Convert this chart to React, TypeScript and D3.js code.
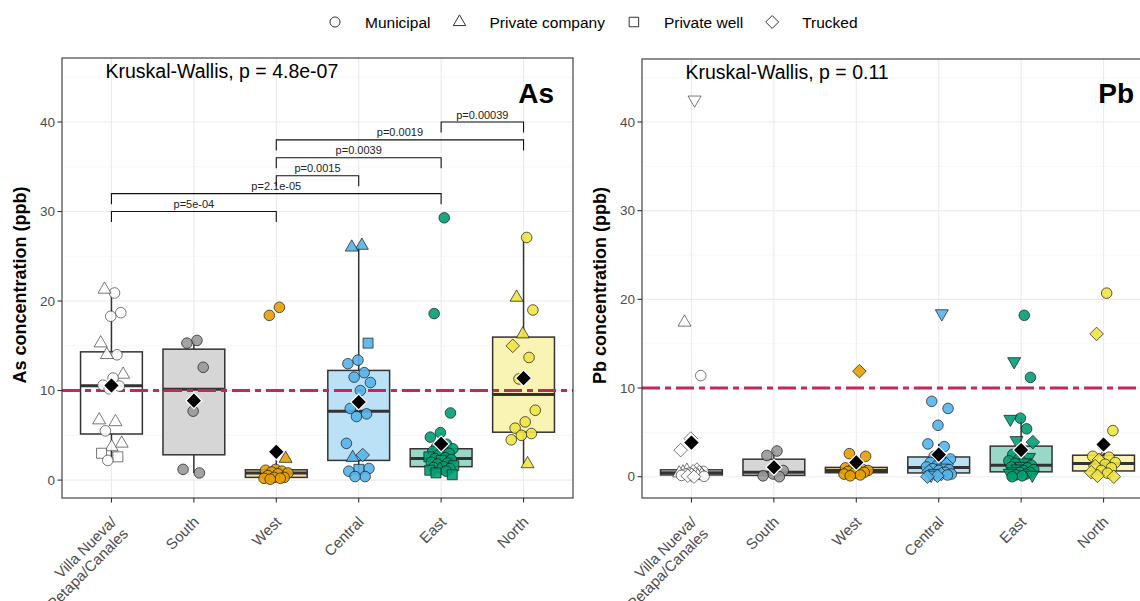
import React from 'react';
import * as d3 from 'd3';

// ---------- data ----------
const categories = ['Villa Nueva/\nPetapa/Canales', 'South', 'West', 'Central', 'East', 'North'];
const groupColors = ['#FFFFFF', '#999999', '#E69F00', '#56B4E9', '#009E73', '#F0E442'];
const legendLabels = ['Municipal', 'Private company', 'Private well', 'Trucked'];
const legendShapes = ['c', 't', 's', 'd'];
const yTicks = [0, 10, 20, 30, 40];
const guideline = 10;

// shapes: c circle, t triangle, s square, d diamond, v down-triangle, x cross
const asVilla: [number, string][] = [[20.9,'c'],[21.3,'t'],[18.7,'c'],[18.3,'c'],[15.3,'t'],[14.0,'c'],[14.0,'t'],[11.8,'t'],[11.4,'c'],[10.6,'c'],[10.5,'c'],[10.2,'c'],[6.7,'t'],[6.5,'t'],[5.5,'c'],[4.1,'t'],[3.7,'t'],[3.0,'s'],[2.6,'s'],[2.2,'c']];
const asSouth: [number, string][] = [[15.6,'c'],[15.3,'c'],[12.6,'c'],[7.7,'c'],[1.2,'c'],[0.8,'c']];
const asWest: [number, string][] = [[19.3,'c'],[18.4,'c'],[2.4,'t'],[1.2,'c'],[1.1,'c'],[1.0,'c'],[0.9,'c'],[0.8,'c'],[0.7,'c'],[0.5,'c'],[0.3,'c'],[0.3,'c'],[0.2,'c'],[0.2,'c'],[0.1,'c']];
const asCentral: [number, string][] = [[26.2,'t'],[26.0,'t'],[15.3,'s'],[13.4,'c'],[13.0,'c'],[12.0,'c'],[11.5,'c'],[10.9,'c'],[10.0,'c'],[8.0,'c'],[7.4,'c'],[7.1,'c'],[4.1,'c'],[2.8,'d'],[2.5,'t'],[1.3,'c'],[1.2,'s'],[1.0,'c'],[0.4,'c'],[0.4,'c']];
const asEast: [number, string][] = [[29.3,'c'],[18.6,'c'],[7.5,'c'],[5.3,'c'],[4.8,'c'],[4.0,'c'],[3.7,'c'],[3.5,'c'],[3.4,'c'],[3.2,'c'],[3.0,'c'],[2.8,'c'],[2.6,'s'],[2.5,'c'],[2.4,'c'],[2.3,'c'],[2.2,'s'],[2.0,'c'],[1.9,'c'],[1.8,'c'],[1.6,'s'],[1.5,'c'],[1.4,'c'],[1.3,'c'],[1.2,'t'],[1.1,'s'],[1.0,'c'],[0.8,'s'],[0.6,'s']];
const asNorth: [number, string][] = [[27.1,'c'],[20.4,'t'],[19.0,'c'],[16.3,'t'],[15.0,'d'],[13.7,'c'],[11.3,'c'],[7.8,'c'],[6.5,'c'],[5.8,'c'],[5.2,'c'],[5.0,'c'],[4.5,'c'],[1.8,'t']];

const pbVilla: [number, string][] = [[42.5,'v'],[17.4,'t'],[11.4,'c'],[4.3,'d'],[3.0,'d'],[0.8,'d'],[0.7,'t'],[0.6,'c'],[0.6,'d'],[0.5,'t'],[0.5,'d'],[0.4,'c'],[0.4,'t'],[0.3,'d'],[0.3,'c'],[0.2,'t'],[0.2,'d'],[0.15,'c'],[0.1,'t'],[0.1,'d'],[0.05,'c'],[0.0,'d']];
const pbSouth: [number, string][] = [[2.9,'c'],[2.4,'c'],[0.7,'c'],[0.3,'c'],[0.1,'c'],[0.0,'c']];
const pbWest: [number, string][] = [[11.9,'d'],[2.6,'c'],[2.3,'c'],[1.1,'c'],[1.0,'c'],[0.9,'c'],[0.8,'c'],[0.7,'c'],[0.7,'c'],[0.6,'c'],[0.5,'c'],[0.4,'c'],[0.3,'c'],[0.2,'c'],[0.1,'c']];
const pbCentral: [number, string][] = [[18.4,'v'],[8.5,'c'],[7.7,'c'],[5.8,'c'],[3.7,'c'],[3.4,'c'],[2.3,'c'],[2.0,'c'],[1.8,'c'],[1.6,'c'],[1.4,'d'],[1.2,'c'],[1.1,'c'],[1.0,'v'],[0.9,'c'],[0.8,'c'],[0.7,'c'],[0.6,'d'],[0.5,'c'],[0.4,'v'],[0.3,'c'],[0.3,'d'],[0.2,'v'],[0.2,'c'],[0.1,'d'],[0.0,'d']];
const pbEast: [number, string][] = [[18.2,'c'],[13.0,'v'],[11.2,'c'],[6.6,'c'],[6.5,'v'],[5.4,'c'],[4.1,'v'],[3.9,'d'],[3.0,'c'],[2.5,'c'],[2.2,'v'],[2.0,'c'],[1.8,'c'],[1.6,'v'],[1.5,'c'],[1.3,'c'],[1.2,'v'],[1.1,'c'],[1.0,'c'],[0.9,'v'],[0.8,'c'],[0.7,'c'],[0.6,'v'],[0.5,'c'],[0.5,'c'],[0.4,'v'],[0.3,'c'],[0.2,'c'],[0.2,'v'],[0.1,'c'],[0.0,'c']];
const pbNorth: [number, string][] = [[20.7,'c'],[16.1,'d'],[5.2,'c'],[2.8,'x'],[2.3,'c'],[2.2,'c'],[1.9,'d'],[1.6,'c'],[1.4,'c'],[1.2,'d'],[1.0,'c'],[0.7,'c'],[0.5,'d'],[0.4,'c'],[0.1,'d'],[0.0,'d']];

// pairwise comparisons: [from, to, label, bracket level (ppb)]
const asComparisons: [number, number, string, number][] = [
  [0, 2, 'p=5e-04', 30],
  [0, 4, 'p=2.1e-05', 32],
  [2, 3, 'p=0.0015', 34],
  [2, 4, 'p=0.0039', 36],
  [2, 5, 'p=0.0019', 38],
  [4, 5, 'p=0.00039', 40],
];
const pbComparisons: [number, number, string, number][] = [];

const FONT = "'Liberation Sans', Arial, Helvetica, sans-serif";

// ---------- helpers ----------
function shapePath(shape: string, cx: number, cy: number, k = 1): string {
  const p = d3.path();
  if (shape === 'c') {
    const r = 5.3 * k;
    p.moveTo(cx + r, cy);
    p.arc(cx, cy, r, 0, Math.PI * 2);
  } else if (shape === 't' || shape === 'v') {
    const a = 13 * k, h = a * 0.866;
    const sgn = shape === 't' ? 1 : -1;
    p.moveTo(cx, cy - sgn * (2 * h) / 3);
    p.lineTo(cx + a / 2, cy + sgn * h / 3);
    p.lineTo(cx - a / 2, cy + sgn * h / 3);
    p.closePath();
  } else if (shape === 's') {
    const s = 5 * k;
    p.rect(cx - s, cy - s, 2 * s, 2 * s);
  } else if (shape === 'd') {
    const s = 6.8 * k;
    p.moveTo(cx, cy - s);
    p.lineTo(cx + s, cy);
    p.lineTo(cx, cy + s);
    p.lineTo(cx - s, cy);
    p.closePath();
  } else if (shape === 'x') {
    const s = 5 * k;
    p.moveTo(cx - s, cy - s); p.lineTo(cx + s, cy + s);
    p.moveTo(cx - s, cy + s); p.lineTo(cx + s, cy - s);
  }
  return p.toString();
}

function boxStats(vals: number[]) {
  const s = vals.slice().sort(d3.ascending);
  const q1 = d3.quantile(s, 0.25)!;
  const med = d3.quantile(s, 0.5)!;
  const q3 = d3.quantile(s, 0.75)!;
  const iqr = q3 - q1;
  const hi = d3.max(s.filter(v => v <= q3 + 1.5 * iqr))!;
  const lo = d3.min(s.filter(v => v >= q1 - 1.5 * iqr))!;
  return { q1, med, q3, hi, lo, mean: d3.mean(s)! };
}

function lighten(col: string, alpha: number) {
  const c = d3.rgb(col);
  const mix = (v: number) => Math.round(255 * (1 - alpha) + v * alpha);
  return d3.rgb(mix(c.r), mix(c.g), mix(c.b)).formatHex();
}

type PanelCfg = {
  x0: number; x1: number; y0: number; y1: number;
  yDomain: [number, number];
  groups: [number, string][][];
  comps: [number, number, string, number][];
  tag: string; yTitle: string; kw: string; yTitleX: number;
};

const panels: PanelCfg[] = [
  { x0: 62, x1: 573, y0: 58, y1: 498, yDomain: [-2.0, 47.15],
    groups: [asVilla, asSouth, asWest, asCentral, asEast, asNorth], comps: asComparisons,
    tag: 'As', yTitle: 'As concentration (ppb)', kw: 'Kruskal-Wallis, p = 4.8e-07', yTitleX: 26 },
  { x0: 642, x1: 1153, y0: 59, y1: 498, yDomain: [-2.4, 47.1],
    groups: [pbVilla, pbSouth, pbWest, pbCentral, pbEast, pbNorth], comps: pbComparisons,
    tag: 'Pb', yTitle: 'Pb concentration (ppb)', kw: 'Kruskal-Wallis, p = 0.11', yTitleX: 606 },
];

function Panel({ cfg }: { cfg: PanelCfg }) {
  const x = d3.scalePoint<string>().domain(categories).range([cfg.x0, cfg.x1]).padding(0.6);
  const y = d3.scaleLinear().domain(cfg.yDomain).range([cfg.y1, cfg.y0]);
  const step = x.step();
  const boxW = step * 0.75;
  const minorTicks = d3.range(5, 50, 10).filter(v => v > cfg.yDomain[0] && v < cfg.yDomain[1]);
  const golden = 0.6180339887;
  return (
    <g>
      {/* grid */}
      {minorTicks.map(v => (
        <line key={'mi' + v} x1={cfg.x0} x2={cfg.x1} y1={y(v)} y2={y(v)} stroke="#f2f2f2" strokeWidth={0.6} />
      ))}
      {yTicks.map(v => (
        <line key={'ma' + v} x1={cfg.x0} x2={cfg.x1} y1={y(v)} y2={y(v)} stroke="#ebebeb" strokeWidth={1.1} />
      ))}
      {categories.map(c => (
        <line key={'gx' + c} x1={x(c)} x2={x(c)} y1={cfg.y0} y2={cfg.y1} stroke="#ebebeb" strokeWidth={1.1} />
      ))}
      {/* boxes */}
      {cfg.groups.map((g, i) => {
        const st = boxStats(g.map(d => d[0]));
        const cx = x(categories[i])!;
        return (
          <g key={'box' + i}>
            <line x1={cx} x2={cx} y1={y(st.q3)} y2={y(st.hi)} stroke="#333" strokeWidth={1.5} />
            <line x1={cx} x2={cx} y1={y(st.q1)} y2={y(st.lo)} stroke="#333" strokeWidth={1.5} />
            <rect x={cx - boxW / 2} y={y(st.q3)} width={boxW} height={Math.max(0.5, y(st.q1) - y(st.q3))}
              fill={lighten(groupColors[i], 0.4)} stroke="#333" strokeWidth={1.5} />
            <line x1={cx - boxW / 2} x2={cx + boxW / 2} y1={y(st.med)} y2={y(st.med)} stroke="#333" strokeWidth={3} />
          </g>
        );
      })}
      {/* guideline */}
      <line x1={cfg.x0} x2={cfg.x1} y1={y(guideline)} y2={y(guideline)} stroke="#C0285F" strokeWidth={3}
        strokeDasharray="18 5 6 5" />
      {/* points */}
      {cfg.groups.map((g, i) => {
        const cx = x(categories[i])!;
        return (
          <g key={'pts' + i}>
            {g.map((d, j) => {
              const jit = (((j + 1) * golden) % 1 - 0.5) * 2 * 0.16 * step;
              const shp = d[1];
              return (
                <path key={j} d={shapePath(shp, cx + jit, y(d[0]))}
                  fill={shp === 'x' ? 'none' : groupColors[i]} fillOpacity={0.9}
                  stroke="#1a1a1a" strokeOpacity={i === 0 ? 0.65 : 0.8} strokeWidth={shp === 'x' ? 1.3 : 0.9} />
              );
            })}
          </g>
        );
      })}
      {/* means */}
      {cfg.groups.map((g, i) => {
        const m = d3.mean(g.map(d => d[0]))!;
        return <path key={'mean' + i} d={shapePath('d', x(categories[i])!, y(m), 1.18)} fill="#000" stroke="#fff" strokeWidth={1.2} />;
      })}
      {/* comparisons */}
      {cfg.comps.map((c, k) => {
        const xa = x(categories[c[0]])!, xb = x(categories[c[1]])!;
        const yy = y(c[3]);
        const tip = 10.5;
        return (
          <g key={'cmp' + k}>
            <path d={`M${xa},${yy + tip}V${yy}H${xb}V${yy + tip}`} fill="none" stroke="#111" strokeWidth={1.1} />
            <text x={(xa + xb) / 2} y={yy - 3.5} textAnchor="middle" fontSize={11} fill="#222">{c[2]}</text>
          </g>
        );
      })}
      {/* labels */}
      <text x={x(categories[0])! - 6} y={y(44.9)} fontSize={19.5} fill="#000">{cfg.kw}</text>
      <text x={cfg.x1 - 19} y={y(42.1)} fontSize={28} fontWeight="bold" textAnchor="end" fill="#000">{cfg.tag}</text>
      {/* border */}
      <rect x={cfg.x0} y={cfg.y0} width={cfg.x1 - cfg.x0} height={cfg.y1 - cfg.y0} fill="none" stroke="#333" strokeWidth={1.1} />
      {/* y axis */}
      {yTicks.map(v => (
        <g key={'yt' + v}>
          <line x1={cfg.x0 - 4.5} x2={cfg.x0} y1={y(v)} y2={y(v)} stroke="#333" strokeWidth={1.1} />
          <text x={cfg.x0 - 7} y={y(v)} dy="0.35em" textAnchor="end" fontSize={13.5} fill="#4d4d4d">{v}</text>
        </g>
      ))}
      <text transform={`translate(${cfg.yTitleX},${(cfg.y0 + cfg.y1) / 2 + 7}) rotate(-90)`} textAnchor="middle"
        fontSize={18} fontWeight="bold" fill="#000">{cfg.yTitle}</text>
      {/* x axis */}
      {categories.map(c => {
        const cx = x(c)!;
        const lines = c.split('\n');
        return (
          <g key={'xt' + c}>
            <line x1={cx} x2={cx} y1={cfg.y1} y2={cfg.y1 + 4.5} stroke="#333" strokeWidth={1.1} />
            <text transform={`translate(${cx - 2},${cfg.y1 + 17}) rotate(-45)`} textAnchor="end" fontSize={15} fill="#4d4d4d">
              {lines.map((l, k) => (
                <tspan key={k} x={0} dy={k === 0 ? '0.75em' : '1.1em'}>{l}</tspan>
              ))}
            </text>
          </g>
        );
      })}
    </g>
  );
}

function measure(text: string, size: number) {
  try {
    const ctx = document.createElement('canvas').getContext('2d')!;
    ctx.font = `${size}px ${FONT}`;
    return ctx.measureText(text).width;
  } catch {
    return text.length * size * 0.52;
  }
}

function Legend() {
  const size = 15.5;
  let cur = 335;
  const items = legendLabels.map((lab, i) => {
    const sx = cur;
    const tx = sx + 30;
    const w = measure(lab, size);
    cur = tx + w + 29;
    return { lab, sx, tx, shape: legendShapes[i] };
  });
  return (
    <g>
      {items.map(it => (
        <g key={it.lab}>
          <path d={shapePath(it.shape, it.sx, 22, 0.95)} fill="none" stroke="#333" strokeWidth={1} />
          <text x={it.tx} y={27.5} fontSize={size} fill="#000">{it.lab}</text>
        </g>
      ))}
    </g>
  );
}

export default function App() {
  return (
    <svg width={1140} height={601} style={{ position: 'absolute', left: 0, top: 0, background: '#fff' }} fontFamily={FONT}>
      <rect width={1140} height={601} fill="#fff" />
      <Legend />
      {panels.map((p, i) => <Panel key={i} cfg={p} />)}
    </svg>
  );
}
